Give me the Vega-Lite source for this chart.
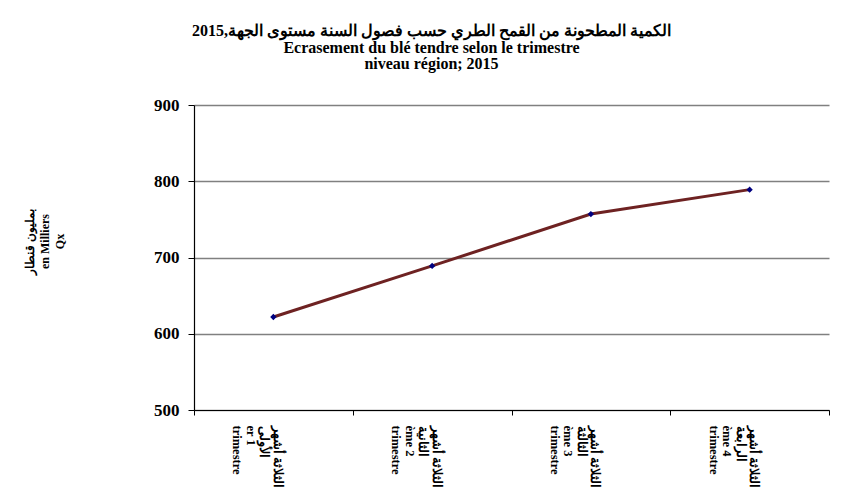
{
  "$schema": "https://vega.github.io/schema/vega-lite/v6.json",
  "width": 635,
  "height": 305,
  "autosize": "none",
  "padding": {"left": 194, "top": 105, "right": 17, "bottom": 78},
  "background": "white",
  "title": {
    "text": ["الكمية المطحونة من القمح الطري حسب فصول السنة مستوى الجهة,2015", "Ecrasement du blé tendre selon le trimestre", "niveau région; 2015"],
    "font": "Liberation Serif",
    "fontSize": 16,
    "fontWeight": "bold",
    "color": "black",
    "anchor": "middle",
    "dx": -80,
    "offset": 24,
    "lineHeight": 16.5
  },
  "data": {
    "values": [
      {"q": "q1", "v": 622},
      {"q": "q2", "v": 689},
      {"q": "q3", "v": 757},
      {"q": "q4", "v": 789}
    ]
  },
  "encoding": {
    "x": {
      "field": "q",
      "type": "nominal",
      "sort": null,
      "scale": {"type": "band", "paddingInner": 0, "paddingOuter": 0},
      "axis": {
        "title": null,
        "labelExpr": "datum.value == 'q1' ? ['الثلاثة أشهر', 'الأولى', 'er 1', 'trimestre'] : datum.value == 'q2' ? ['الثلاثة أشهر', 'الثانية', 'ème 2', 'trimestre'] : datum.value == 'q3' ? ['الثلاثة أشهر', 'الثالثة', 'ème 3', 'trimestre'] : datum.value == 'q4' ? ['الثلاثة أشهر', 'الرابعة', 'ème 4', 'trimestre'] : ''",
        "labelAngle": 90,
        "labelAlign": "left",
        "labelBaseline": "middle",
        "labelFont": "Liberation Serif",
        "labelFontSize": 12.5,
        "labelFontWeight": "bold",
        "labelColor": "black",
        "labelLineHeight": 13.5,
        "labelPadding": 10,
        "labelOffset": 4,
        "tickBand": "extent",
        "tickColor": "black",
        "tickSize": 5,
        "domainColor": "black",
        "domainWidth": 1.2,
        "grid": false
      }
    },
    "y": {
      "field": "v",
      "type": "quantitative",
      "scale": {"domain": [500, 900], "nice": false, "zero": false},
      "axis": {
        "values": [500, 600, 700, 800, 900],
        "title": ["بمليون قنطار", "en Milliers", "Qx"],
        "titleFont": "Liberation Serif",
        "titleFontSize": 12,
        "titleFontWeight": "bold",
        "titleColor": "black",
        "titleAngle": -90,
        "titleX": -170,
        "titleY": 136,
        "titleAlign": "center",
        "titleBaseline": "top",
        "titleLineHeight": 15,
        "labelFont": "Liberation Serif",
        "labelFontSize": 17,
        "labelFontWeight": "bold",
        "labelColor": "black",
        "labelPadding": 9,
        "tickColor": "black",
        "tickSize": 6,
        "domainColor": "black",
        "domainWidth": 1.2,
        "grid": true,
        "gridColor": "#808080",
        "gridWidth": 1.5,
        "gridOpacity": 1
      }
    }
  },
  "layer": [
    {"mark": {"type": "line", "color": "#6E2222", "strokeWidth": 3}},
    {"mark": {"type": "point", "shape": "diamond", "filled": true, "color": "#000080", "size": 40, "opacity": 1}}
  ],
  "config": {"view": {"stroke": null}}
}
